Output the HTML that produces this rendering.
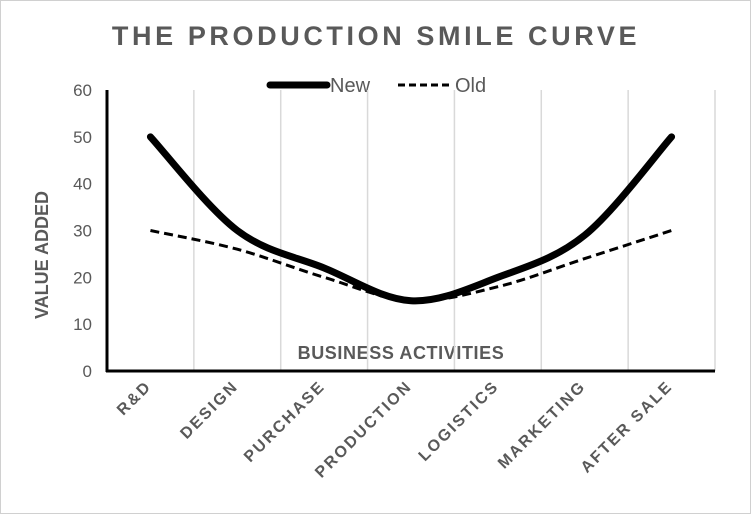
<!DOCTYPE html>
<html><head><meta charset="utf-8"><style>
body{margin:0;background:#fff}
svg{display:block;font-family:"Liberation Sans",Arial,sans-serif}
</style></head><body>
<svg id="c" width="751" height="514">
<rect x="0.5" y="0.5" width="750" height="513" fill="#fff" stroke="#d0d0d0"/>
<text x="376" y="45" text-anchor="middle" font-size="27" font-weight="bold" fill="#595959" letter-spacing="3.6">THE PRODUCTION  SMILE CURVE</text>
<g>
<line x1="270" y1="85" x2="327" y2="85" stroke="#000" stroke-width="7" stroke-linecap="round"/>
<text x="330" y="92" font-size="20" fill="#595959">New</text>
<line x1="398" y1="85" x2="452" y2="85" stroke="#000" stroke-width="3" stroke-dasharray="7,4"/>
<text x="455" y="92" font-size="20" fill="#595959">Old</text>
</g>
<text transform="translate(48,255) rotate(-90)" text-anchor="middle" font-size="18" font-weight="bold" fill="#595959">VALUE ADDED</text>
<text x="401" y="359" text-anchor="middle" font-size="18" font-weight="bold" fill="#595959" letter-spacing="0.6">BUSINESS ACTIVITIES</text>
<g id="grid"></g><g id="marks"></g><g id="axes"></g>
</svg>
<script>
const categories=["R&D","DESIGN","PURCHASE","PRODUCTION","LOGISTICS","MARKETING","AFTER SALE"];
const newValues=[50,30,22,15,20,29,50];
const oldValues=[30,26,20,15,18,24,30];
const yTicks=[0,10,20,30,40,50,60];
const NS="http://www.w3.org/2000/svg";
const X0=107,X1=715,Y0=371,Y1=90,YMAX=60;
const bw=(X1-X0)/categories.length;
const xs=i=>X0+bw*(i+0.5);
const ys=v=>Y0-(v/YMAX)*(Y0-Y1);
function mk(tag,attrs,parent){const e=document.createElementNS(NS,tag);for(const k in attrs)e.setAttribute(k,attrs[k]);parent.appendChild(e);return e;}
const grid=document.getElementById('grid'),marks=document.getElementById('marks'),axes=document.getElementById('axes');
for(let i=1;i<=categories.length;i++){
  const l=mk('line',{x1:X0+bw*i,x2:X0+bw*i,y1:Y1,y2:Y0,stroke:'#d9d9d9','stroke-width':1.5},grid);
  
  
}
const ya=mk('line',{x1:X0,x2:X0,y1:Y1,y2:Y0+1,stroke:'#000','stroke-width':3},axes);


const xa=mk('line',{x1:X0-1,x2:X1,y1:Y0,y2:Y0,stroke:'#000','stroke-width':3},axes);


yTicks.forEach(v=>{
  const t=mk('text',{x:92,y:ys(v)+6,'text-anchor':'end','font-size':17,fill:'#595959'},axes);
  t.textContent=v;
  
  
});
categories.forEach((c,i)=>{
  const x=xs(i)+2,y=387;
  const t=mk('text',{x:x,y:y,'text-anchor':'end','font-size':16,'font-weight':'bold',fill:'#595959','letter-spacing':2.2,transform:`rotate(-45 ${x} ${y})`},axes);
  t.textContent=c;
  
  
});
function smooth(vals){
  const p=vals.map((v,i)=>[xs(i),ys(v)]);
  let d=`M${p[0][0]},${p[0][1]}`;
  for(let i=0;i<p.length-1;i++){
    const p0=p[i-1]||p[i],p1=p[i],p2=p[i+1],p3=p[i+2]||p2;
    const c1=[p1[0]+(p2[0]-p0[0])/6,p1[1]+(p2[1]-p0[1])/6];
    const c2=[p2[0]-(p3[0]-p1[0])/6,p2[1]-(p3[1]-p1[1])/6];
    d+=` C${c1[0]},${c1[1]} ${c2[0]},${c2[1]} ${p2[0]},${p2[1]}`;
  }
  return d;
}
const o=mk('path',{d:smooth(oldValues),fill:'none',stroke:'#000','stroke-width':3,'stroke-dasharray':'9,5'},marks);


const n=mk('path',{d:smooth(newValues),fill:'none',stroke:'#000','stroke-width':7,'stroke-linecap':'round'},marks);


</script>
</body></html>
